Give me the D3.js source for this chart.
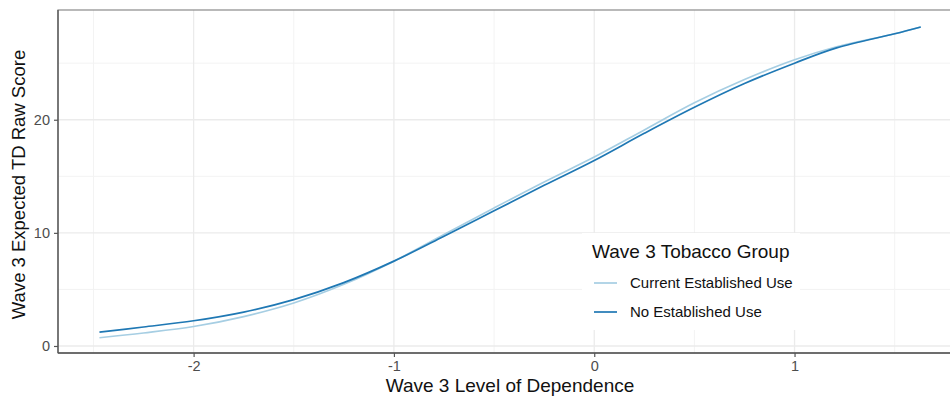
<!DOCTYPE html>
<html><head><meta charset="utf-8">
<script src="https://cdn.jsdelivr.net/npm/d3@7"></script>
<style>body{margin:0;background:#fff;overflow:hidden;}svg{display:block;font-family:"Liberation Sans",Arial,sans-serif;}</style>
</head><body><svg id="c" width="950" height="400"></svg>
<script>
const xValues = [-2.47,-2.25,-2,-1.75,-1.5,-1.25,-1,-0.75,-0.5,-0.25,0,0.25,0.5,0.75,1,1.21,1.5,1.63];
const currentEstablished = [0.73,1.15,1.72,2.6,3.8,5.45,7.5,9.85,12.2,14.5,16.7,19.1,21.5,23.55,25.3,26.45,27.6,28.2];
const noEstablished = [1.23,1.68,2.23,3.0,4.1,5.6,7.5,9.7,11.95,14.2,16.4,18.8,21.1,23.2,25.0,26.35,27.6,28.2];
const seriesNames = ["Current Established Use","No Established Use"];
const seriesColors = ["#a6cee3","#1f78b4"];
const xTicks = [-2,-1,0,1];
const yTicks = [0,10,20];
const xMinor = [-2.5,-1.5,-0.5,0.5,1.5];
const yMinor = [5,15,25];

const svg = d3.select("#c");
const L=58, R=962, T=10, B=353;
const x = d3.scaleLinear().domain([-2.677,1.836]).range([L,R]);
const y = d3.scaleLinear().domain([-0.62,29.7]).range([B,T]);

const g = svg.append("g");
g.selectAll(".mx").data(xMinor).join("line").attr("x1",d=>x(d)).attr("x2",d=>x(d)).attr("y1",T).attr("y2",B).attr("stroke","#f3f3f3").attr("stroke-width",1);
g.selectAll(".my").data(yMinor).join("line").attr("y1",d=>y(d)).attr("y2",d=>y(d)).attr("x1",L).attr("x2",R).attr("stroke","#f3f3f3").attr("stroke-width",1);
g.selectAll(".gx").data(xTicks).join("line").attr("x1",d=>x(d)).attr("x2",d=>x(d)).attr("y1",T).attr("y2",B).attr("stroke","#ebebeb").attr("stroke-width",1.3);
g.selectAll(".gy").data(yTicks).join("line").attr("y1",d=>y(d)).attr("y2",d=>y(d)).attr("x1",L).attr("x2",R).attr("stroke","#ebebeb").attr("stroke-width",1.3);

const line = d3.line().x(d=>x(d[0])).y(d=>y(d[1])).curve(d3.curveCatmullRom.alpha(0.5));
[currentEstablished, noEstablished].forEach((s,i)=>{
  svg.append("path").datum(xValues.map((v,j)=>[v,s[j]])).attr("d",line)
    .attr("fill","none").attr("stroke",seriesColors[i]).attr("stroke-width",1.7);
});

svg.append("rect").attr("x",L).attr("y",T).attr("width",R-L).attr("height",B-T).attr("fill","none").attr("stroke","#8a8a8a").attr("stroke-width",1.2);
svg.append("line").attr("x1",L).attr("x2",R).attr("y1",B).attr("y2",B).attr("stroke","#555").attr("stroke-width",1.3);
svg.append("line").attr("x1",L).attr("x2",L).attr("y1",T).attr("y2",B).attr("stroke","#555").attr("stroke-width",1.3);

const xAxis = svg.append("g").attr("transform",`translate(0,${B})`).call(d3.axisBottom(x).tickValues(xTicks).tickSize(4).tickPadding(4).tickFormat(d3.format("d")));
const yAxis = svg.append("g").attr("transform",`translate(${L},0)`).call(d3.axisLeft(y).tickValues(yTicks).tickSize(4).tickPadding(4).tickFormat(d3.format("d")));
[xAxis,yAxis].forEach(a=>{
  a.select(".domain").remove();
  a.selectAll(".tick line").attr("stroke","#555").attr("stroke-width",1.2);
  a.selectAll(".tick text").attr("fill","#4d4d4d").style("font-size","14.5px").style("font-family","'Liberation Sans',Arial,sans-serif");
});
xAxis.selectAll(".tick text").text(d=>d<0?"-"+Math.abs(d):d);

svg.append("text").attr("x",(L+R)/2).attr("y",392).attr("text-anchor","middle").style("font-size","19px").attr("fill","#111").text("Wave 3 Level of Dependence");
svg.append("text").attr("transform",`translate(25,${(T+B)/2 + 3}) rotate(-90)`).attr("text-anchor","middle").style("font-size","18.5px").attr("fill","#111").text("Wave 3 Expected TD Raw Score");

const lg = svg.append("g");
lg.append("rect").attr("x",582).attr("y",233).attr("width",218).attr("height",97).attr("fill","#fff");
lg.append("text").attr("x",592).attr("y",258).style("font-size","19px").attr("fill","#111").text("Wave 3 Tobacco Group");
seriesNames.forEach((n,i)=>{
  const yy = 283 + i*29;
  lg.append("line").attr("x1",594).attr("x2",617).attr("y1",yy).attr("y2",yy).attr("stroke",seriesColors[i]).attr("stroke-width",1.7);
  lg.append("text").attr("x",630).attr("y",yy+5).style("font-size","15px").attr("fill","#111").text(n);
});
</script></body></html>
